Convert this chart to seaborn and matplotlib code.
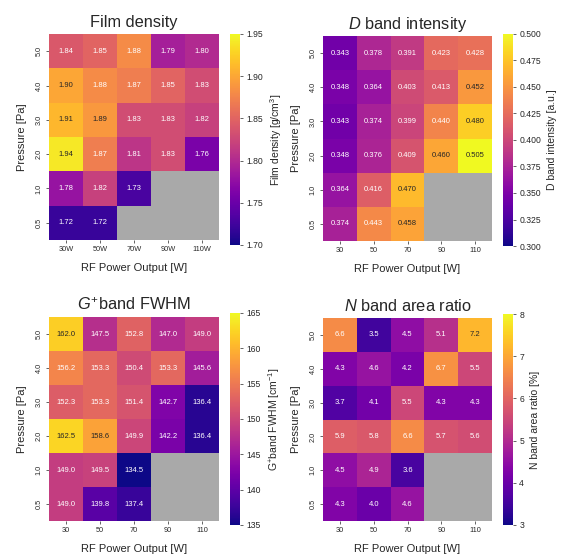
import numpy as np
import pandas as pd
import matplotlib
matplotlib.use("Agg")
import matplotlib.pyplot as plt
import seaborn as sns

sns.set_theme(style="white")
plt.rcParams["font.family"] = ["Liberation Sans", "DejaVu Sans"]
plt.rcParams["mathtext.fontset"] = "custom"
plt.rcParams["mathtext.rm"] = "Liberation Sans"
plt.rcParams["mathtext.it"] = "Liberation Sans:italic"

# RF power (columns) and pressure (rows, top to bottom)
power = [30, 50, 70, 90, 110]
pressure = ["5.0", "4.0", "3.0", "2.0", "1.0", "0.5"]
nan = np.nan

film_density = [
    [1.84, 1.85, 1.88, 1.79, 1.80],
    [1.90, 1.88, 1.87, 1.85, 1.83],
    [1.91, 1.89, 1.83, 1.83, 1.82],
    [1.94, 1.87, 1.81, 1.83, 1.76],
    [1.78, 1.82, 1.73, nan, nan],
    [1.72, 1.72, nan, nan, nan],
]
d_band = [
    [0.343, 0.378, 0.391, 0.423, 0.428],
    [0.348, 0.364, 0.403, 0.413, 0.452],
    [0.343, 0.374, 0.399, 0.440, 0.480],
    [0.348, 0.376, 0.409, 0.460, 0.505],
    [0.364, 0.416, 0.470, nan, nan],
    [0.374, 0.443, 0.458, nan, nan],
]
g_fwhm = [
    [162.0, 147.5, 152.8, 147.0, 149.0],
    [156.2, 153.3, 150.4, 153.3, 145.6],
    [152.3, 153.3, 151.4, 142.7, 136.4],
    [162.5, 158.6, 149.9, 142.2, 136.4],
    [149.0, 149.5, 134.5, nan, nan],
    [149.0, 139.8, 137.4, nan, nan],
]
n_ratio = [
    [6.6, 3.5, 4.5, 5.1, 7.2],
    [4.3, 4.6, 4.2, 6.7, 5.5],
    [3.7, 4.1, 5.5, 4.3, 4.3],
    [5.9, 5.8, 6.6, 5.7, 5.6],
    [4.5, 4.9, 3.6, nan, nan],
    [4.3, 4.0, 4.6, nan, nan],
]

W, H = 561, 556
fig = plt.figure(figsize=(W / 100, H / 100), dpi=100)


def px_axes(x0, y0, x1, y1):
    return fig.add_axes([x0 / W, 1 - y1 / H, (x1 - x0) / W, (y1 - y0) / H])


panels = [
    dict(data=film_density, title="Film density", xt=[f"{p}W" for p in power],
         cbl="Film density [g/cm$^3$]", fmt=".2f", vmin=1.70, vmax=1.95,
         ticks=np.arange(1.70, 1.951, 0.05), tfmt="{:.2f}",
         hm=(49, 34, 219, 240), cb=(230, 34, 240, 245)),
    dict(data=d_band, title="$D$ band intensity", xt=[str(p) for p in power],
         cbl="D band intensity [a.u.]", fmt=".3f", vmin=0.300, vmax=0.500,
         ticks=np.arange(0.300, 0.5001, 0.025), tfmt="{:.3f}",
         hm=(323, 36, 492, 241), cb=(503, 34, 513, 246)),
    dict(data=g_fwhm, title="$G^{+}$band FWHM", xt=[str(p) for p in power],
         cbl="G$^{+}$band FWHM [cm$^{-1}$]", fmt=".1f", vmin=135, vmax=165,
         ticks=np.arange(135, 166, 5), tfmt="{:.0f}",
         hm=(49, 317, 219, 521), cb=(230, 313, 240, 525)),
    dict(data=n_ratio, title="$N$ band area ratio", xt=[str(p) for p in power],
         cbl="N band area ratio [%]", fmt=".1f", vmin=3, vmax=8,
         ticks=np.arange(3, 9, 1), tfmt="{:.0f}",
         hm=(323, 318, 492, 521), cb=(503, 314, 513, 525)),
]

for p in panels:
    ax = px_axes(*p["hm"])
    cax = px_axes(*p["cb"])
    df = pd.DataFrame(p["data"], index=pressure, columns=p["xt"])
    sns.heatmap(df, ax=ax, cbar_ax=cax, cmap="plasma", vmin=p["vmin"], vmax=p["vmax"],
                annot=True, fmt=p["fmt"], annot_kws={"fontsize": 5.5},
                cbar_kws={"ticks": p["ticks"]})
    ax.set_facecolor("#a9a9a9")
    ax.set_title(p["title"], fontsize=11.8, pad=5)
    ax.set_xlabel("RF Power Output [W]", fontsize=8, labelpad=7)
    ax.set_ylabel("Pressure [Pa]", fontsize=8, labelpad=6)
    ax.tick_params(axis="both", labelsize=5.3, length=2.5, width=0.5, pad=2, left=True, bottom=True)
    ax.set_yticklabels(pressure, rotation=90, va="center")
    ax.set_xticklabels(p["xt"], rotation=0)
    cax.set_yticklabels([p["tfmt"].format(t) for t in p["ticks"]])
    cax.tick_params(labelsize=6.2, length=2.5, width=0.5, pad=2, right=True)
    cax.set_ylabel(p["cbl"], fontsize=7.5, labelpad=4)
    for s in cax.spines.values():
        s.set_visible(False)

fig.savefig("out.png", dpi=100)
